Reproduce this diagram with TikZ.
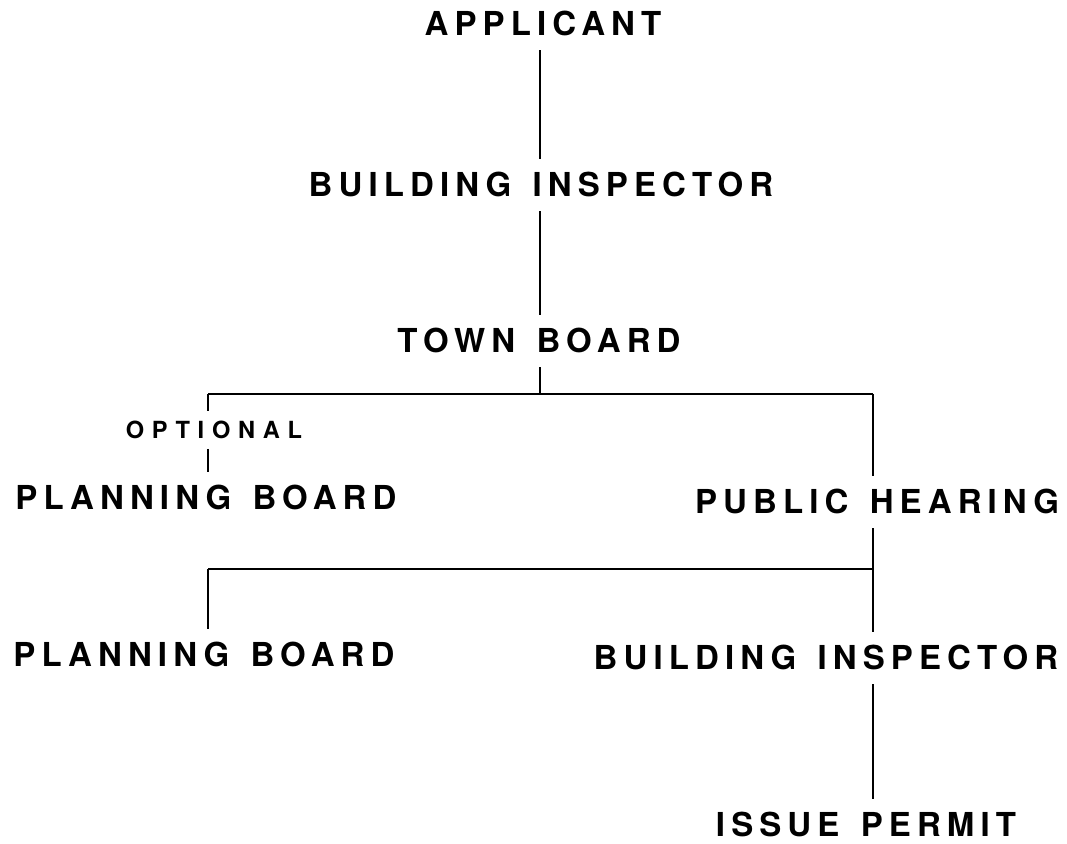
\documentclass[tikz,border=0pt]{standalone}
\usepackage{fontspec}
\usepackage{tikz}
\usetikzlibrary{calc}
\usetikzlibrary{positioning}
\newfontfamily\chartfont[LetterSpace=18.5,WordSpace=1.4]{TeX Gyre Heros}
\newfontfamily\notefont[LetterSpace=33]{TeX Gyre Heros}
\tikzstyle{stage}=[font=\chartfont\bfseries\fontsize{16.5}{18}\selectfont,
                text height=11.8pt, text depth=0pt, inner sep=7pt]
\tikzstyle{note}=[font=\notefont\bfseries\fontsize{11.8}{13}\selectfont,
                text height=8.5pt, text depth=0pt, inner sep=5pt]
\tikzstyle{link}=[draw=black, line width=0.8pt, -]
\begin{document}
\begin{tikzpicture}[x=0.5pt,y=-0.5pt]
\useasboundingbox (0,0) rectangle (1067,844);
\node (applicant) at (543,24) [stage] {APPLICANT};
\node (inspector) at (541,185) [stage] {BUILDING INSPECTOR};
\node (townboard) at (539,341) [stage] {TOWN BOARD};
\node (optional) at (214,430) [note] {OPTIONAL};
\node (planning) at (206,498) [stage] {PLANNING BOARD};
\node (hearing) at (877,502) [stage] {PUBLIC HEARING};
\node (planningtwo) at (204,655) [stage] {PLANNING BOARD};
\node (inspectortwo) at (826,658) [stage] {BUILDING INSPECTOR};
\node (permit) at (866,825) [stage] {ISSUE PERMIT};
% junctions
\coordinate (topmid) at (540,394);
\coordinate (topleft) at (208,394);
\coordinate (topright) at (873,394);
\coordinate (lowright) at (873,569);
\coordinate (lowleft) at (208,569);
\draw[link] (applicant.south -| topmid) -- (inspector.north -| topmid);
\draw[link] (inspector.south -| topmid) -- (townboard.north -| topmid);
\draw[link] (townboard.south -| topmid) -- (topmid);
\draw[link] (topleft) -- (topright);
\draw[link] (topleft) -- (optional.north -| topleft);
\draw[link] (optional.south -| topleft) -- (planning.north -| topleft);
\draw[link] (topright) -- (hearing.north -| topright);
\draw[link] (hearing.south -| lowright) -- (inspectortwo.north -| lowright);
\draw[link] (lowleft) -- (lowright);
\draw[link] (lowleft) -- (planningtwo.north -| lowleft);
\draw[link] (inspectortwo.south -| lowright) -- (permit.north -| lowright);
\end{tikzpicture}
\end{document}
